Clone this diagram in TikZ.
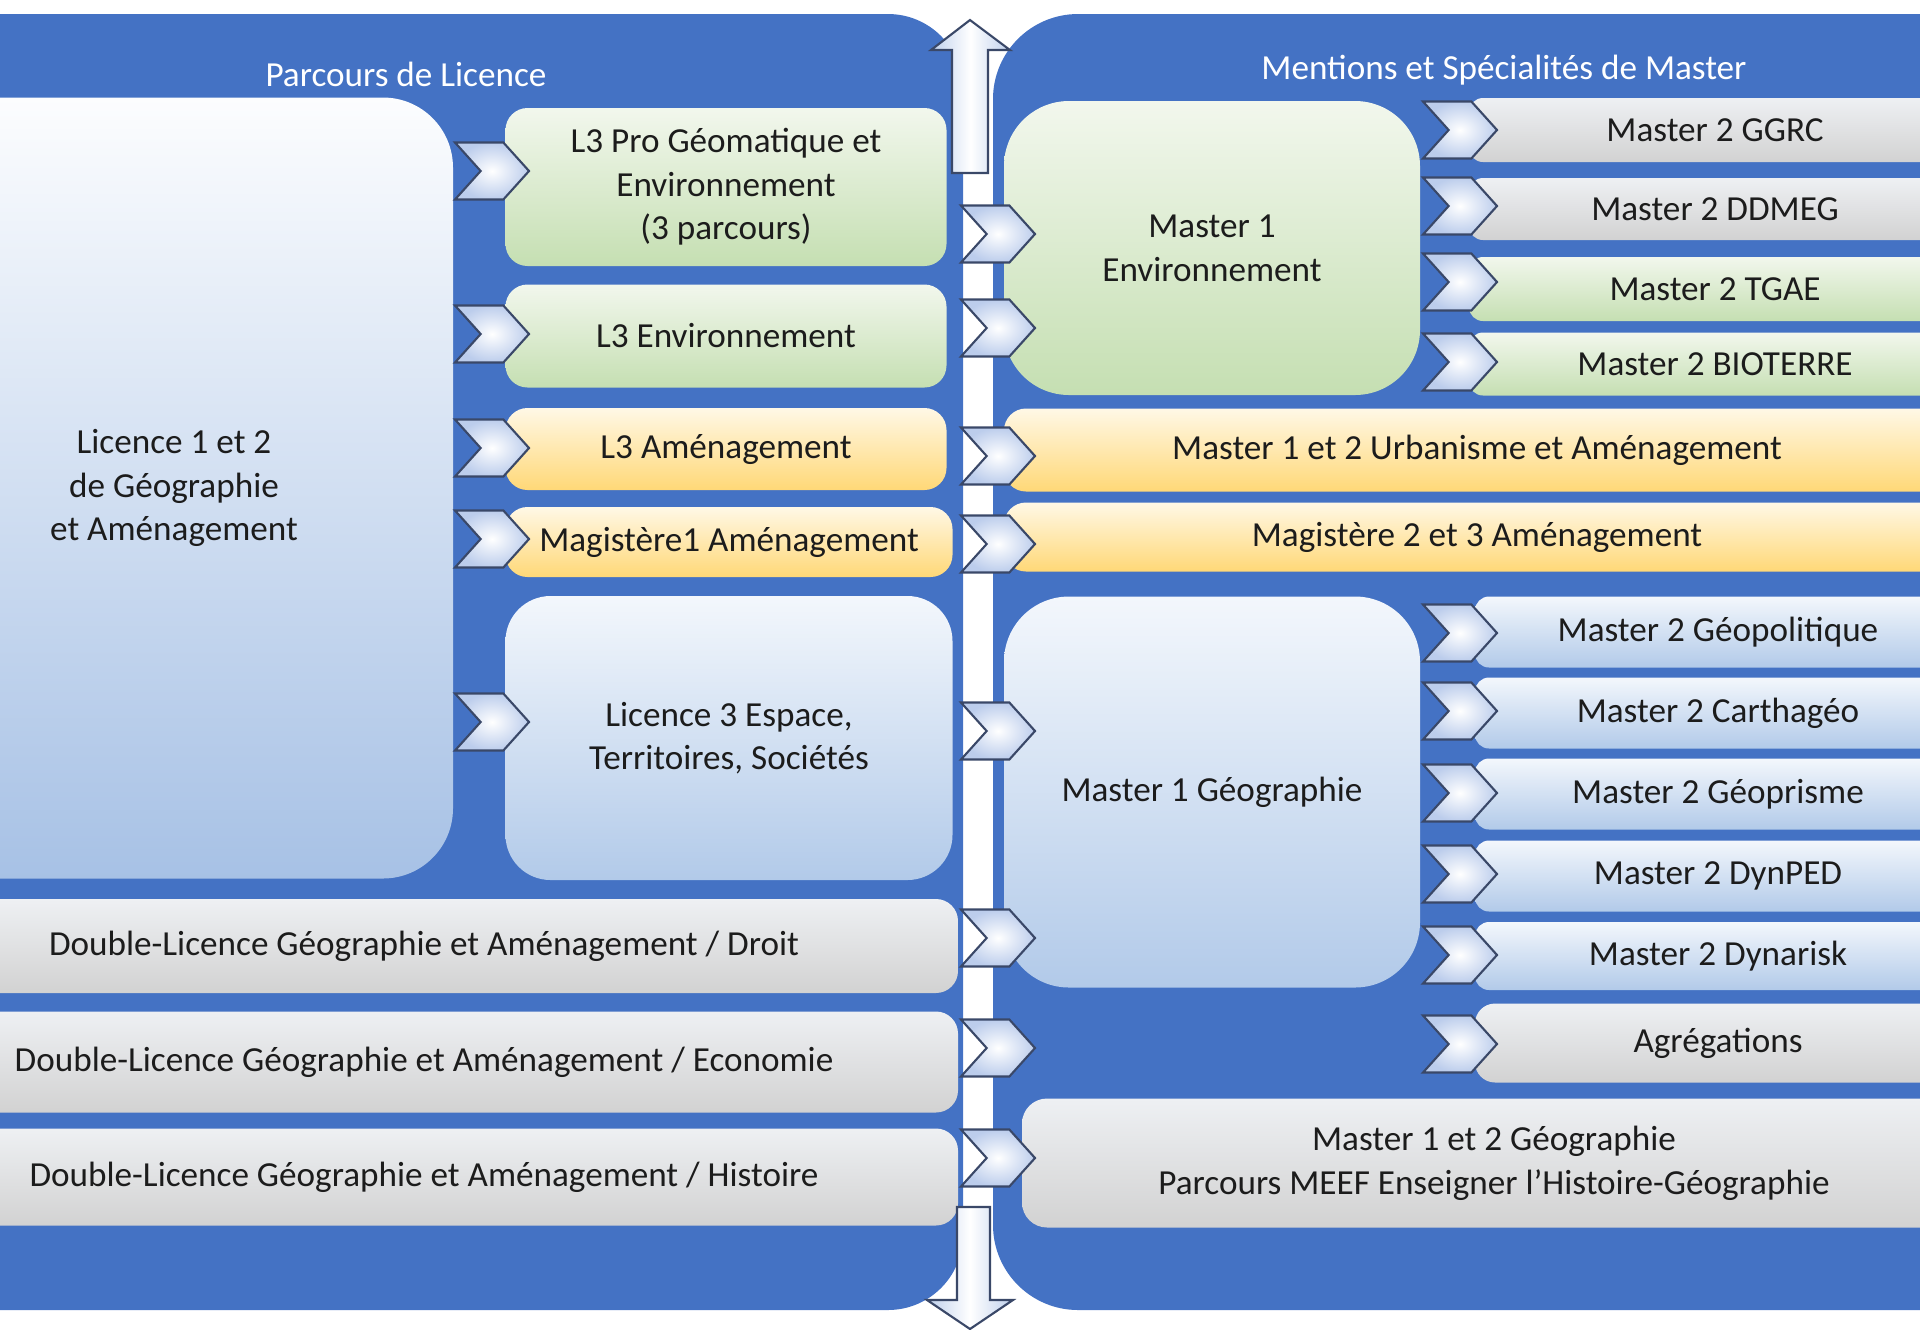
\documentclass[tikz,border=0pt]{standalone}
\usepackage{fontspec}
\setmainfont{Carlito}
\usetikzlibrary{shapes.symbols}

\definecolor{panelblue}{HTML}{4472C4}
\definecolor{txtgray}{HTML}{1C1C1C}
\definecolor{gtop}{HTML}{F2F7ED}
\definecolor{gbot}{HTML}{C5DFB2}
\definecolor{ytop}{HTML}{FFF8E6}
\definecolor{ybot}{HTML}{FFD877}
\definecolor{btop}{HTML}{F3F7FC}
\definecolor{bbot}{HTML}{B2CAE9}
\definecolor{grtop}{HTML}{EEF0F3}
\definecolor{grbot}{HTML}{D2D2D2}
\definecolor{chevline}{HTML}{3A4868}
\definecolor{chevblue}{HTML}{BCCDEC}
\definecolor{arrowblue}{HTML}{BFD0EC}

\begin{document}
\begin{tikzpicture}[x=0.01cm, y=-0.01cm,
    every node/.style={font=\fontsize{10}{12.4}\selectfont, text=txtgray, align=center, inner sep=0pt},
    sz/.style 2 args={minimum width=#1*0.01cm, minimum height=#2*0.01cm},
    box/.style={rectangle, rounded corners=0.22cm},
    boxg/.style={box, top color=gtop, bottom color=gbot},
    boxy/.style={box, top color=ytop, bottom color=ybot},
    boxb/.style={box, top color=btop, bottom color=bbot},
    boxgr/.style={box, top color=grtop, bottom color=grbot},
    title/.style={text=white},
    chev/.style={signal, signal from=west, signal to=east, signal pointer angle=96,
        minimum width=0.74cm, minimum height=0.57cm, draw=chevline, line width=0.6pt,
        inner color=white, outer color=chevblue},
    varrow/.style={draw=chevline, line width=0.6pt, left color=arrowblue, right color=arrowblue, middle color=white}]

	\useasboundingbox (0,0) rectangle (1920,1329);
	\clip (0,0) rectangle (1920,1329);

	% the two panels
	\fill[panelblue, rounded corners=0.75cm] (-200,14) rectangle (963,1310);
	\fill[panelblue, rounded corners=0.85cm] (993,14) rectangle (2200,1310);

	\node[title] (tlic) at (406,74) {Parcours de Licence};
	\node[title] (tmas) at (1504,70) {Mentions et Spécialités de Master};

	% licence side
	\node[boxb, rounded corners=0.7cm, top color=white!96!bbot, bottom color=bbot!90!panelblue, sz={558}{781}] (lic12) at (174,488) {Licence 1 et 2\\de Géographie\\et Aménagement};
	\node[boxg, sz={441}{158}] (l3pro) at (726,187) {L3 Pro Géomatique et\\Environnement\\(3 parcours)};
	\node[boxg, sz={441}{103}] (l3env) at (726,336) {L3 Environnement};
	\node[boxy, sz={441}{82}] (l3amen) at (726,449) {L3 Aménagement};
	\node[boxy, sz={447}{70}] (mag1) at (729,542) {Magistère1 Aménagement};
	\node[boxb, rounded corners=0.45cm, sz={447}{284}] (l3ets) at (729,738) {Licence 3 Espace,\\Territoires, Sociétés};
	\node[boxgr, sz={1068}{94}] (dldroit) at (424,946) {Double-Licence Géographie et Aménagement / Droit};
	\node[boxgr, sz={1068}{101}] (dleco) at (424,1062) {Double-Licence Géographie et Aménagement / Economie};
	\node[boxgr, sz={1068}{97}] (dlhist) at (424,1177) {Double-Licence Géographie et Aménagement / Histoire};

	% master side
	\node[boxg, rounded corners=0.65cm, sz={416}{294}] (m1env) at (1212,248) {Master 1\\Environnement};
	\node[boxgr, rounded corners=0.14cm, sz={492}{64}] (ggrc) at (1715,130) {Master 2 GGRC};
	\node[boxgr, rounded corners=0.14cm, sz={492}{62}] (ddmeg) at (1715,209) {Master 2 DDMEG};
	\node[boxg, rounded corners=0.14cm, sz={492}{64}] (tgae) at (1715,289) {Master 2 TGAE};
	\node[boxg, rounded corners=0.14cm, sz={492}{63}] (bioterre) at (1715,364) {Master 2 BIOTERRE};
	\node[boxy, sz={946}{83}] (urba) at (1477,450) {Master 1 et 2 Urbanisme et Aménagement};
	\node[boxy, sz={946}{69}] (mag23) at (1477,537) {Magistère 2 et 3 Aménagement};
	\node[boxb, rounded corners=0.65cm, sz={416}{391}] (m1geo) at (1212,792) {Master 1 Géographie};
	\node[boxb, rounded corners=0.14cm, sz={486}{71}] (geopol) at (1718,632) {Master 2 Géopolitique};
	\node[boxb, rounded corners=0.14cm, sz={486}{71}] (cartha) at (1718,713) {Master 2 Carthagéo};
	\node[boxb, rounded corners=0.14cm, sz={486}{71}] (geopri) at (1718,794) {Master 2 Géoprisme};
	\node[boxb, rounded corners=0.14cm, sz={486}{71}] (dynped) at (1718,876) {Master 2 DynPED};
	\node[boxb, rounded corners=0.14cm, sz={486}{68}] (dynrisk) at (1718,956) {Master 2 Dynarisk};
	\node[boxgr, rounded corners=0.2cm, sz={486}{79}] (agreg) at (1718,1043) {Agrégations};
	\node[boxgr, rounded corners=0.25cm, sz={944}{129}] (meef) at (1494,1163) {Master 1 et 2 Géographie\\Parcours MEEF Enseigner l’Histoire-Géographie};

	% vertical arrows between the panels
	\draw[varrow] (952,173) -- (952,50) -- (931,50) -- (970,20) -- (1010,50) -- (988,50) -- (988,173) -- cycle;
	\draw[varrow] (957,1207) -- (957,1300) -- (927,1300) -- (970,1329) -- (1013,1300) -- (990,1300) -- (990,1207) -- cycle;

	% chevrons licence 1-2 -> L3
	\node[chev] (cl1) at (492,171) {};
	\node[chev] (cl2) at (492,334) {};
	\node[chev] (cl3) at (492,448) {};
	\node[chev] (cl4) at (492,539) {};
	\node[chev] (cl5) at (492,722) {};

	% chevrons licence -> master
	\node[chev] (cm1) at (998,234) {};
	\node[chev] (cm2) at (998,328) {};
	\node[chev] (cm3) at (998,456) {};
	\node[chev] (cm4) at (998,544) {};
	\node[chev] (cm5) at (998,731) {};
	\node[chev] (cm6) at (998,938) {};
	\node[chev] (cm7) at (998,1048) {};
	\node[chev] (cm8) at (998,1158) {};

	% chevrons master 1 -> master 2
	\node[chev] (cr1) at (1460,130) {};
	\node[chev] (cr2) at (1460,206) {};
	\node[chev] (cr3) at (1460,282) {};
	\node[chev] (cr4) at (1460,362) {};
	\node[chev] (cr5) at (1460,633) {};
	\node[chev] (cr6) at (1460,711) {};
	\node[chev] (cr7) at (1460,793) {};
	\node[chev] (cr8) at (1460,874) {};
	\node[chev] (cr9) at (1460,955) {};
	\node[chev] (cr10) at (1460,1044) {};

\end{tikzpicture}
\end{document}
